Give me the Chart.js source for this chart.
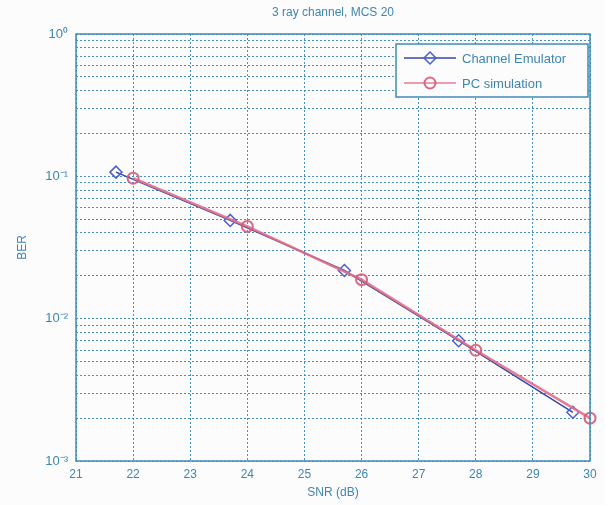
<!DOCTYPE html>
<html>
<head>
<meta charset="utf-8">
<script src="https://cdn.jsdelivr.net/npm/chart.js@4/dist/chart.umd.min.js"></script>
<style>
  html, body { margin: 0; padding: 0; background: #fdfcfc; }
  #wrap { width: 605px; height: 505px; }
</style>
</head>
<body>
<div id="wrap"><canvas id="berChart" width="605" height="505"></canvas></div>
<script>
// データ
const chartTitle = '3 ray channel, MCS 20';
const emuSnr = [21.7, 23.7, 25.7, 27.7, 29.7];
const emuBer = [0.107, 0.049, 0.0218, 0.0070, 0.0022];
const pcSnr = [22, 24, 26, 28, 30];
const pcBer = [0.097, 0.0445, 0.0188, 0.0060, 0.0020];
const xTicks = [21, 22, 23, 24, 25, 26, 27, 28, 29, 30];
const decades = [0.001, 0.01, 0.1, 1];
const decadeLabels = ['10\u207B\u00B3', '10\u207B\u00B2', '10\u207B\u00B9', '10\u2070'];

// 対数目盛（1〜9 × 10^n）
const yTicks = [];
decades.forEach((d, i) => {
    if (i === decades.length - 1) { yTicks.push(d); return; }
    for (let m = 1; m <= 9; m++) yTicks.push(+(m * d).toPrecision(3));
});

const axisColor = '#3f8cb5';
const gridColor = 'rgba(60, 140, 190, 0.95)';
const textColor = '#3d86b0';
const fontFamily = '"Liberation Sans", Arial, sans-serif';

// 枠・タイトル・凡例（グラフ内右上）
const framePlugin = {
    id: 'frame',
    afterDraw(chart) {
        const { ctx, chartArea: a } = chart;
        ctx.save();
        ctx.strokeStyle = axisColor;
        ctx.lineWidth = 1.5;
        ctx.strokeRect(a.left, a.top, a.right - a.left, a.bottom - a.top);

        ctx.fillStyle = textColor;
        ctx.font = '12px ' + fontFamily;
        ctx.textAlign = 'center';
        ctx.textBaseline = 'middle';
        ctx.fillText(chartTitle, (a.left + a.right) / 2, 13);

        // 凡例
        const lx = 396, ly = 44, lw = 192, lh = 53;
        ctx.fillStyle = '#fdfcfc';
        ctx.fillRect(lx, ly, lw, lh);
        ctx.strokeStyle = axisColor;
        ctx.lineWidth = 1.5;
        ctx.strokeRect(lx, ly, lw, lh);
        chart.data.datasets.slice().reverse().forEach((ds, i) => {
            const y = ly + 14 + i * 25;
            ctx.strokeStyle = ds.borderColor;
            ctx.lineWidth = 1.5;
            ctx.beginPath();
            ctx.moveTo(lx + 8, y);
            ctx.lineTo(lx + 60, y);
            ctx.stroke();
            ctx.fillStyle = 'rgba(0,0,0,0)';
            ctx.strokeStyle = ds.pointBorderColor;
            ctx.lineWidth = ds.pointBorderWidth;
            Chart.helpers.drawPoint(ctx, {
                pointStyle: ds.pointStyle, radius: ds.pointRadius,
                borderWidth: ds.pointBorderWidth, rotation: 0
            }, lx + 34, y);
            ctx.fillStyle = textColor;
            ctx.font = '13px ' + fontFamily;
            ctx.textAlign = 'left';
            ctx.fillText(ds.label, lx + 66, y + 1);
        });
        ctx.restore();
    }
};

const ctx = document.getElementById('berChart').getContext('2d');
const berChart = new Chart(ctx, {
    type: 'line',
    data: {
        datasets: [
            {
                label: 'PC simulation',
                data: pcSnr.map((x, i) => ({ x: x, y: pcBer[i] })),
                borderColor: 'rgba(225, 110, 135, 0.9)',
                backgroundColor: 'rgba(0,0,0,0)',
                pointBorderColor: 'rgba(215, 90, 120, 0.9)',
                borderWidth: 2.5,
                pointStyle: 'circle',
                pointRadius: 5.5,
                pointBorderWidth: 2,
                tension: 0,
                clip: false
            },
            {
                label: 'Channel Emulator',
                data: emuSnr.map((x, i) => ({ x: x, y: emuBer[i] })),
                borderColor: '#3348a8',
                backgroundColor: 'rgba(0,0,0,0)',
                pointBorderColor: '#4a5fd0',
                borderWidth: 1.5,
                pointStyle: 'rectRot',
                pointRadius: 6,
                pointBorderWidth: 1.5,
                tension: 0,
                clip: false
            }
        ]
    },
    options: {
        responsive: false,
        animation: false,
        layout: { padding: { top: 34, right: 15, left: 0, bottom: 0 } },
        plugins: {
            legend: { display: false },
            tooltip: { enabled: false }
        },
        scales: {
            x: {
                type: 'linear',
                min: 21,
                max: 30,
                afterFit(s) { s.height = 44; },
                afterBuildTicks(s) { s.ticks = xTicks.map(v => ({ value: v })); },
                ticks: {
                    color: textColor,
                    font: { family: fontFamily, size: 12 },
                    padding: 6,
                    maxRotation: 0,
                    callback: v => String(v)
                },
                grid: {
                    color: gridColor,
                    lineWidth: 1,
                    drawTicks: false
                },
                border: { display: false, dash: [2, 2] },
                title: {
                    display: true,
                    text: 'SNR (dB)',
                    color: textColor,
                    font: { family: fontFamily, size: 12 },
                    padding: { top: 0, bottom: 5 }
                }
            },
            y: {
                type: 'logarithmic',
                min: 0.001,
                max: 1,
                afterFit(s) { s.width = 76; },
                afterBuildTicks(s) { s.ticks = yTicks.map(v => ({ value: v })); },
                ticks: {
                    color: textColor,
                    font: { family: fontFamily, size: 13 },
                    padding: 8,
                    autoSkip: false,
                    callback: v => {
                        const k = decades.findIndex(d => Math.abs(d - v) / d < 1e-6);
                        return k >= 0 ? decadeLabels[k] : '';
                    }
                },
                grid: {
                    color: gridColor,
                    lineWidth: 1,
                    drawTicks: false
                },
                border: { display: false, dash: [2, 2] },
                title: {
                    display: true,
                    text: 'BER',
                    color: textColor,
                    font: { family: fontFamily, size: 12 },
                    padding: { top: 15, bottom: 0 }
                }
            }
        }
    },
    plugins: [framePlugin]
});
</script>
</body>
</html>
